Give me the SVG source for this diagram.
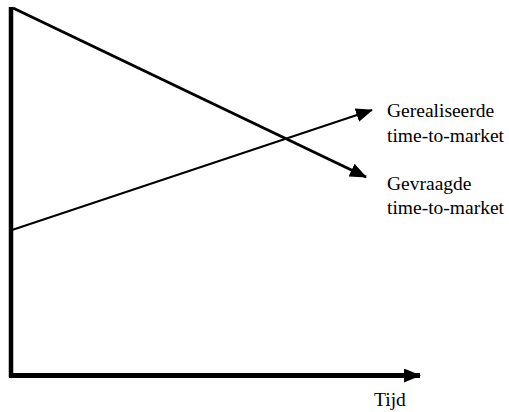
<svg xmlns="http://www.w3.org/2000/svg" width="509" height="412" viewBox="0 0 509 412">
<style>
.t{font-family:"Liberation Serif","Times New Roman",serif;font-size:19.5px;fill:#000}
.ln{stroke:#000;fill:none}
</style>
<defs>
<marker id="ah" markerWidth="17" markerHeight="14" refX="16" refY="7" orient="auto" markerUnits="userSpaceOnUse">
<path d="M0,0 L17,7 L0,14 Z" fill="#000"/>
</marker>
</defs>
<rect width="509" height="412" fill="#fff"/>
<g id="connectors">
<path id="y-axis" class="ln" d="M11,7 V377" stroke-width="4.5"/>
<path id="x-axis" class="ln" d="M9,375.5 H420" stroke-width="5" marker-end="url(#ah)"/>
<path id="gevraagd" class="ln" d="M13,8 L366,177" stroke-width="3" marker-end="url(#ah)"/>
<path id="gerealiseerd" class="ln" d="M12,230 L372,110" stroke-width="2" marker-end="url(#ah)"/>
</g>
<g id="label-gerealiseerde">
<text class="t" x="387" y="117">Gerealiseerde</text>
<text class="t" x="387" y="142">time-to-market</text>
</g>
<g id="label-gevraagde">
<text class="t" x="387" y="190">Gevraagde</text>
<text class="t" x="387" y="214">time-to-market</text>
</g>
<g id="label-tijd">
<text class="t" x="374" y="406">Tijd</text>
</g>
</svg>
